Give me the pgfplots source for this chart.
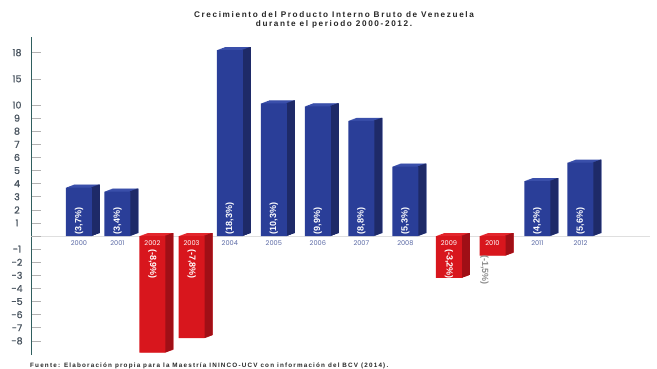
\documentclass[border=0pt]{standalone}
\usepackage{pgfplots}
\pgfplotsset{compat=1.18}
\usepackage{fontspec}
\setmainfont{Liberation Sans}
\newfontfamily\tickfont[FakeBold=1]{Poppins}
\newfontfamily\yearfont{Poppins}
\newfontfamily\titlefont[LetterSpace=20]{Liberation Sans}
\newfontfamily\footfont[LetterSpace=19]{Liberation Sans}
\newfontfamily\labfont{Liberation Sans}
\definecolor{bfront}{HTML}{2A3E98}
\definecolor{btop}{HTML}{3A4FAA}
\definecolor{bside}{HTML}{1E2A68}
\definecolor{rfront}{HTML}{D8161D}
\definecolor{rtop}{HTML}{E3262C}
\definecolor{rside}{HTML}{A00F16}
\definecolor{axcol}{HTML}{2F5F5F}
\definecolor{yearcol}{HTML}{5A69A5}
\definecolor{tickcol}{HTML}{4A5560}

\pgfplotstableread{
x     v
0     3.7
0.875 3.4
3.43  18.3
4.43  10.3
5.43  9.9
6.42  8.8
7.42  5.3
10.42 4.2
11.40 5.6
}\posdata
\pgfplotstableread{
x     v
1.67  -8.9
2.56  -7.8
8.41  -3.2
9.40  -1.5
}\negdata

\begin{document}
\begin{tikzpicture}
\useasboundingbox (0,0) rectangle (657pt,368pt);
\begin{axis}[
  at={(31pt,13pt)}, anchor=south west,
  scale only axis, width=619pt, height=318pt,
  xmin=-1.09, xmax=12.98,
  ymin=-9.08, ymax=19.79,
  y coord trafo/.code={\pgfmathparse{(#1>15) ? 12+(#1-15)*2/3 : ((#1>10) ? 10+(#1-10)*0.4 : #1)}},
  y coord inv trafo/.code={\pgfmathparse{(#1>12) ? 15+(#1-12)*1.5 : ((#1>10) ? 10+(#1-10)*2.5 : #1)}},
  axis x line=none,
  axis y line*=left,
  y axis line style={draw=axcol, line width=0.8pt},
  xtick=\empty,
  ytick={-8,-7,-6,-5,-4,-3,-2,-1,1,2,3,4,5,6,7,8,9,10,15,18},
  yticklabels={-8,-7,-6,-5,-4,-3,-2,-1,1,2,3,4,5,6,7,8,9,10,15,18},
  ytick pos=left,
  tick align=inside,
  major tick length=10pt,
  ytick style={draw=gray!60, line width=0.6pt},
  yticklabel style={font=\tickfont\fontsize{9.5}{10}\selectfont, text=tickcol, anchor=center, xshift=-14pt},
  /pgf/number format/assume math mode=true,
  extra y ticks={0},
  extra y tick labels={},
  extra y tick style={grid=major, major grid style={draw=gray!25, line width=0.6pt}, tick style={draw=none}},
  clip=false,
]
% top faces (swept front rectangles)
\pgfplotsinvokeforeach{8,7,6,5,4,3,2,1}{
  \addplot[ybar, bar width=26pt, bar shift=0pt, fill=btop, draw=none, xshift=#1pt, yshift=0.375*#1pt] table[x=x,y=v] {\posdata};
  \addplot[ybar, bar width=26pt, bar shift=0pt, fill=rtop, draw=none, xshift=#1pt, yshift=0.375*#1pt] table[x=x,y=v] {\negdata};
}
% side faces (swept right edge)
\pgfplotsinvokeforeach{8,7,6,5,4,3,2,1}{
  \addplot[ybar, bar width=1.6pt, bar shift=12.2pt, fill=bside, draw=none, xshift=#1pt, yshift=0.375*#1pt] table[x=x,y=v] {\posdata};
  \addplot[ybar, bar width=1.6pt, bar shift=12.2pt, fill=rside, draw=none, xshift=#1pt, yshift=0.375*#1pt] table[x=x,y=v] {\negdata};
}
% front faces
\addplot[ybar, bar width=26pt, bar shift=0pt, fill=bfront, draw=none] table[x=x,y=v] {\posdata};
\addplot[ybar, bar width=26pt, bar shift=0pt, fill=rfront, draw=none] table[x=x,y=v] {\negdata};

% value labels, positive
\addplot[draw=none, mark=none, nodes near coords, point meta=explicit symbolic,
  nodes near coords style={rotate=90, anchor=west, inner sep=1.5pt, text=white, font=\labfont\bfseries\fontsize{9}{9}\selectfont}]
  coordinates {(0,0) [{(3,7\%)}] (0.875,0) [{(3,4\%)}] (3.43,0) [{(18,3\%)}] (4.43,0) [{(10,3\%)}] (5.43,0) [{(9,9\%)}] (6.42,0) [{(8,8\%)}] (7.42,0) [{(5,3\%)}] (10.42,0) [{(4,2\%)}] (11.40,0) [{(5,6\%)}]};
% value labels, negative
\addplot[draw=none, mark=none, nodes near coords, point meta=explicit symbolic,
  nodes near coords style={yshift=-13pt, rotate=-90, anchor=west, inner sep=0pt, text=white, font=\labfont\bfseries\fontsize{9}{9}\selectfont}]
  coordinates {(1.67,0) [{(-8,9\%)}] (2.56,0) [{(-7,8\%)}] (8.41,0) [{(-3,2\%)}]};
\addplot[draw=none, mark=none, nodes near coords, point meta=explicit symbolic,
  nodes near coords style={xshift=-8pt, yshift=-19pt, rotate=-90, anchor=west, inner sep=0pt, text=gray!90, font=\labfont\bfseries\fontsize{9}{9}\selectfont}]
  coordinates {(9.40,0) [{(-1,5\%)}]};
% year labels
\addplot[draw=none, mark=none, nodes near coords, point meta=explicit symbolic,
  nodes near coords style={anchor=center, yshift=-7.5pt, inner sep=0pt, text=yearcol, font=\yearfont\fontsize{6.6}{7}\selectfont}]
  coordinates {(0,0) [2000] (0.875,0) [2001] (3.43,0) [2004] (4.43,0) [2005] (5.43,0) [2006] (6.42,0) [2007] (7.42,0) [2008] (10.42,0) [2011] (11.40,0) [2012]};
\addplot[draw=none, mark=none, nodes near coords, point meta=explicit symbolic,
  nodes near coords style={anchor=center, yshift=-7.5pt, inner sep=0pt, text=white, font=\yearfont\fontsize{6.6}{7}\selectfont}]
  coordinates {(1.67,0) [2002] (2.56,0) [2003] (8.41,0) [2009] (9.40,0) [2010]};
\end{axis}
\node[font=\titlefont\bfseries\fontsize{8.2}{8.6}\selectfont, text=black!85, align=center, inner sep=0pt] at (334pt,348pt) {Crecimiento del Producto Interno Bruto de Venezuela\\durante el periodo 2000-2012.};
\node[font=\footfont\bfseries\fontsize{6.3}{6.5}\selectfont, text=black!85, anchor=west, inner sep=0pt] at (30pt,2.5pt) {Fuente: Elaboración propia para la Maestría ININCO-UCV con información del BCV (2014).};
\end{tikzpicture}
\end{document}
